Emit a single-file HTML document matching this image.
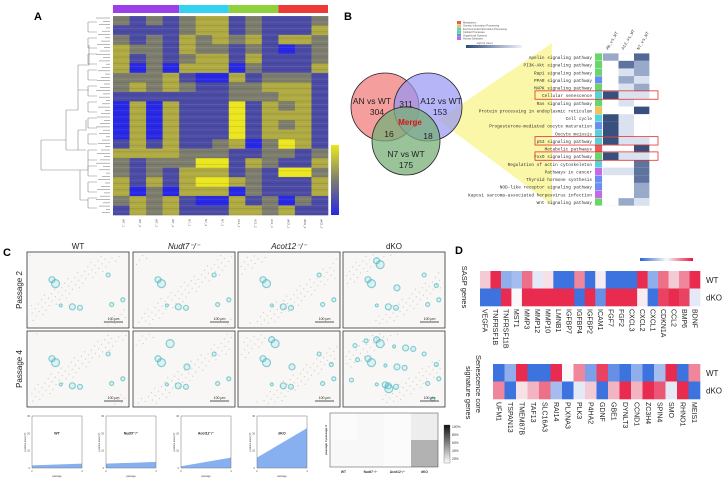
<!DOCTYPE html>
<html><head><meta charset="utf-8"><style>
html,body{margin:0;padding:0;background:#fff;}
svg{display:block;font-family:"Liberation Sans",sans-serif;}
</style></head><body>
<svg id="fig" width="727" height="480" viewBox="0 0 727 480" xmlns="http://www.w3.org/2000/svg">
<g id="gA"></g>
<g id="gB"></g>
<g id="gC"></g>
<g id="gD"></g>
</svg>
<script>
// ---------- Panel A data ----------
const aColumns = ['WT_1','WT_2','WT_3','WT_4','N7_1','N7_2','N7_3','A12_1','A12_2','A12_3','dKO_1','dKO_2','dKO_3'];
const aGroups = [4,3,3,3];
const aGroupColors = ['#9b3fe8','#33d2f0','#8fd13a','#ec3b36'];
const aRows = [
[0,-1,0,-1,0,1,1,-1,0,-1,-1,-1,0],
[-1,-1,-1,-1,0,1,1,-1,0,-1,-1,-1,1],
[0,-1,0,-1,1,0,1,0,1,-1,1,1,0],
[1,0,0,-1,1,0,0,-1,0,-1,-2,-1,0],
[1,-1,0,-1,0,1,1,-1,1,-1,-1,-1,0],
[1,-2,0,-2,1,1,1,-2,0,-1,-1,-1,1],
[0,0,0,1,-1,-2,-2,1,-1,0,0,0,-1],
[0,1,0,1,0,-1,-1,0,0,1,1,1,-1],
[-1,-1,-1,-1,-1,-1,-1,0,0,0,1,1,-1],
[-2,1,-2,1,-1,-1,-1,2,-1,1,0,1,-1],
[-2,1,-2,1,-1,-1,-1,2,-1,1,1,1,-1],
[-2,1,-2,1,-1,-1,-1,2,-1,1,0,1,-1],
[-2,1,-2,1,-1,-1,-1,2,-1,1,1,1,-1],
[-1,1,-1,1,-1,-1,0,1,-2,0,2,1,-1],
[1,1,1,1,0,0,0,-1,-1,0,0,-1,0],
[0,-1,0,0,0,2,2,-1,1,0,-1,-1,1],
[0,-1,0,-1,1,1,1,-1,0,-1,2,2,0],
[1,-1,1,-1,1,2,2,1,0,-1,-1,-1,1],
[1,-2,0,-2,1,1,1,-2,0,-1,-1,-1,1],
[0,1,0,1,-1,-2,-2,1,-1,0,-2,0,-1],
[-1,1,0,1,-1,-1,-1,1,1,0,1,-1,-1]
];
// ---------- Panel B data ----------
const keggNames = ['Apelin signaling pathway','PI3K-Akt signaling pathway','Rap1 signaling pathway','PPAR signaling pathway','MAPK signaling pathway','Cellular senescence','Ras signaling pathway','Protein processing in endoplasmic reticulum','Cell cycle','Progesterone-mediated oocyte maturation','Oocyte meiosis','p53 signaling pathway','Metabolic pathways','FoxO signaling pathway','Regulation of actin cytoskeleton','Pathways in cancer','Thyroid hormone synthesis','NOD-like receptor signaling pathway','Kaposi sarcoma-associated herpesvirus infection','Wnt signaling pathway'];
const keggCategory = [3,3,3,4,3,2,3,1,2,4,2,2,0,3,2,5,4,4,5,3];
const keggAN  = [1.3,0,0,0,0,3,0,0,3,3,3,3,0,3,0,0.3,0,0,0,0];
const keggA12 = [0,2.3,0.3,1.3,0.3,0.3,0.3,0,0.3,0.3,0.3,0.3,0,0.3,0,0.3,0,0,0,1.3];
const keggN7  = [2.5,1.3,1.3,0.3,1.3,0.3,0,3,0,0,0,0.3,3,0.3,2.3,2.3,2.3,1.3,1.3,0.3];
const keggBoxed = [5,11,13];
const keggHeaders = ['AN_vs_WT','A12_vs_WT','N7_vs_WT'];
const catColors = ['#ec5b5b','#f2c458','#5ad0d8','#6ad56a','#6a8ef0','#c46ae8'];
const catNames = ['Metabolism','Genetic Information Processing','Environmental Information Processing','Cellular Processes','Organismal Systems','Human Diseases'];
// ---------- Panel C data ----------
const cGroups = ['WT','Nudt7\u207B/\u207B','Acot12\u207B/\u207B','dKO'];
const cP2 = [1.5,2.5,1,6];
const cP4 = [2.5,3.5,6,23];
const cYTicks = [0,10,20,30];
const hmP2 = [2,3,2,8];
const hmP4 = [3,3,2,35];
const hmLegend = ['100%','80%','60%','40%','20%'];
// ---------- Panel D data ----------
const saspGenes = ['VEGFA','TNFRSF1B','TNFRSF11B','MST1','MMP3','MMP12','MMP10','LMNB1','IGFBP7','IGFBP4','IGFBP2','ICAM1','FGF7','FGF2','CXCL3','CXCL2','CXCL1','CDKN1A','CCL2','BMP6','BDNF'];
const saspWT  = [0.2,0.9,-0.5,-0.4,0.6,-0.1,0.1,-0.9,-0.9,0.5,-0.9,0.05,-0.9,-0.9,-0.9,0.9,-0.5,0.6,0.2,0.5,0.9];
const saspKO  = [-0.9,-0.9,0.9,0,0.9,0.9,0.9,0.9,0.9,-0.9,0.9,-0.7,0.9,0.9,0.9,0.05,-0.9,0.8,0.9,0.8,-0.1];
const coreGenes = ['UFM1','TSPAN13','TMEM87B','TAF13','SLC16A3','RAI14','PLXNA3','PLK3','P4HA2','GDNF','GBE1','DYNLT3','CCND1','ZC3H4','SPIN4','SMO','RHNO1','MEIS1'];
const coreWT = [-0.9,-0.5,0.9,-0.9,-0.9,0.9,0,0.5,-0.6,0.8,-0.7,-0.9,-0.5,-0.9,-0.4,0.9,-0.9,0.5];
const coreKO = [0.5,-0.9,0.1,0.3,0.6,-0.4,-0.9,-0.1,0.2,-0.9,0.3,0.9,0.3,0.9,0.7,-0.1,0.9,-0.9];

const NS='http://www.w3.org/2000/svg';
function mk(parent,tag,attrs,txt){const e=document.createElementNS(NS,tag);for(const k in attrs)e.setAttribute(k,attrs[k]);if(txt!==undefined)e.textContent=txt;parent.appendChild(e);return e;}
function lerp(a,b,t){return a.map((v,i)=>Math.round(v+(b[i]-v)*t));}
function rgb(c){return 'rgb('+c.join(',')+')';}
function colA(v){const t=(v+2)/4;const s=[[40,40,230],[75,75,165],[125,125,110],[175,170,65],[235,230,30]];const p=t*4;const i=Math.min(3,Math.floor(p));return rgb(lerp(s[i],s[i+1],p-i));}
function colD(v){const b=[40,100,220],w=[248,248,250],r=[230,20,60];return v<0?rgb(lerp(w,b,-v)):rgb(lerp(w,r,v));}

// ---------- Panel A ----------
const gA=document.getElementById('gA');
let t=mk(gA,'text',{x:34,y:20,'font-size':11,'font-weight':'bold'},'A');

const ax0=113,ax1=328,ay0=16,ay1=215;
const cw=(ax1-ax0)/aColumns.length, rh=(ay1-ay0)/aRows.length;
let ci=0;
aGroups.forEach((n,g)=>{const r=mk(gA,'rect',{x:ax0+ci*cw,y:5,width:n*cw,height:8,fill:aGroupColors[g]});
ci+=n;});
aRows.forEach((row,i)=>row.forEach((v,j)=>{const r=mk(gA,'rect',{x:ax0+j*cw,y:ay0+i*rh,width:cw+0.3,height:rh+0.3,fill:colA(v)});
}));
for(let i=0;i<=aRows.length*3;i++){mk(gA,'line',{x1:ax0,x2:ax1,y1:ay0+i*rh/3,y2:ay0+i*rh/3,stroke:i%2?'rgba(0,0,60,0.10)':'rgba(255,255,200,0.10)','stroke-width':0.8});}
aColumns.forEach((c,j)=>{const tx=mk(gA,'text',{x:0,y:0,'font-size':3,fill:'#555',transform:`translate(${ax0+j*cw+cw/2+1},219) rotate(90)`},c);
});
// dendrogram
const dg=mk(gA,'g',{stroke:'#888','stroke-width':0.6,fill:'none'});

mk(dg,'path',{d:'M41,140 V170 M41,140 H66 V110 M41,170 H80 V185 M66,110 H78 V65 M66,150 H78 V130 M78,65 H89 V45 M78,90 H89 M78,130 H86 V120 M78,150 H86 M80,170 H88 V160 M80,200 H88 M66,110 V150 M80,185 V200'});
for(let i=0;i<60;i++){const y=ay0+2+i*3.3;const x=96+((i*7)%11);mk(dg,'path',{d:`M${x},${y} H110`});}
for(let i=0;i<12;i++){const y=ay0+6+i*16;mk(dg,'path',{d:`M88,${y} V${y+10} M88,${y} H97 M88,${y+10} H97`});}
// colorbar
const grad=mk(mk(gA,'defs',{}),'linearGradient',{id:'ga',x1:0,y1:1,x2:0,y2:0});
[[0,'rgb(40,40,230)'],[0.5,'rgb(125,125,110)'],[1,'rgb(235,230,30)']].forEach(s=>mk(grad,'stop',{offset:s[0],'stop-color':s[1]}));
const cb=mk(gA,'rect',{x:331,y:145,width:8,height:70,fill:'url(#ga)'});


// ---------- Panel B ----------
const gB=document.getElementById('gB');
t=mk(gB,'text',{x:344,y:20,'font-size':11,'font-weight':'bold'},'B');

const tri=mk(gB,'polygon',{points:'438,120 552,43 552,205',fill:'#fbf7a8'});

[[385,107,'rgba(240,125,125,0.75)','venn-an'],[428,107,'rgba(150,150,245,0.7)','venn-a12'],[406,141,'rgba(120,175,120,0.75)','venn-n7']].forEach(c=>{
const e=mk(gB,'circle',{cx:c[0],cy:c[1],r:34,fill:c[2],stroke:'#222','stroke-width':0.8});
});
[['AN vs WT',372,104,'venn-an-title'],['304',377,115,'venn-an-count'],['311',406,107,'venn-overlap-count'],['A12 vs WT',441,104,'venn-a12-title'],['153',440,115,'venn-a12-count'],['16',389,137,'venn-16'],['18',428,139,'venn-18'],['N7 vs WT',406,157,'venn-n7-title'],['175',406,168,'venn-n7-count']].forEach(a=>{
const e=mk(gB,'text',{x:a[1],y:a[2],'font-size':8.5,'text-anchor':'middle',fill:'#222'},a[0]);
});
t=mk(gB,'text',{x:410,y:125,'font-size':8,'text-anchor':'middle',fill:'#e01010','font-weight':'bold'},'Merge');

// legend
catNames.forEach((n,i)=>{const r=mk(gB,'rect',{x:457,y:21+i*3.2,width:4,height:3,fill:catColors[i]});

const e=mk(gB,'text',{x:463,y:23.5+i*3.2,'font-size':2.6,fill:'#555'},n);
});
const g2=mk(gB.appendChild(document.createElementNS(NS,'defs')),'linearGradient',{id:'gk',x1:0,y1:0,x2:1,y2:0});
mk(g2,'stop',{offset:0,'stop-color':'#2c4a7a'});mk(g2,'stop',{offset:1,'stop-color':'#eef2fa'});
const kb=mk(gB,'rect',{x:466,y:45,width:56,height:3,fill:'url(#gk)'});

mk(gB,'text',{x:476,y:44,'font-size':2.5,fill:'#666'},'-log10(p value)');
const ky0=57, ks=7.63, kx=[603,618.5,634], kcw=15.5;
function kcol(v){if(v<=0)return '#ffffff';const s=[[238,242,250],[170,186,214],[110,130,170],[55,80,125]];const p=Math.min(2.999,v*0.999);const i=Math.floor(p);return rgb(lerp(s[i],s[Math.min(3,i+1)],p-i));}
keggNames.forEach((n,i)=>{const y=ky0+i*ks;
const e=mk(gB,'text',{x:592,y:y+2,'font-size':4.4,'text-anchor':'end','font-family':'Liberation Mono, monospace',fill:'#333'},n);

const s=mk(gB,'rect',{x:595,y:y-3.6,width:7,height:ks-0.4,fill:catColors[keggCategory[i]]});

[keggAN,keggA12,keggN7].forEach((arr,k)=>{const c=mk(gB,'rect',{x:kx[k],y:y-3.8,width:kcw,height:ks,fill:kcol(arr[i])});
});});
mk(gB,'rect',{x:602.5,y:ky0-3.8,width:47,height:ks*20,fill:'none',stroke:'#eef0f4','stroke-width':0.4});
keggBoxed.forEach(i=>{const b=mk(gB,'rect',{x:535,y:ky0+i*ks-4.3,width:123,height:8.4,fill:'none',stroke:'#e03030','stroke-width':0.8});
});
keggHeaders.forEach((h,k)=>{const e=mk(gB,'text',{x:0,y:0,'font-size':4.2,'font-family':'Liberation Mono, monospace',fill:'#333',transform:`translate(${kx[k]+5},50) rotate(-60)`},h);
});

// ---------- Panel C ----------
const gC=document.getElementById('gC');
t=mk(gC,'text',{x:3,y:256,'font-size':11,'font-weight':'bold'},'C');

const imX=[27,133,238,343], imW=102, imY=[252,331], imH=76;
cGroups.forEach((g,i)=>{const e=mk(gC,'text',{x:imX[i]+imW/2,y:249,'font-size':8,'text-anchor':'middle','font-style':i===1||i===2?'italic':'normal',fill:'#222'},g);
});
['Passage 2','Passage 4'].forEach((p,r)=>{const e=mk(gC,'text',{x:0,y:0,'font-size':8,'text-anchor':'middle',fill:'#222',transform:`translate(22,${imY[r]+imH/2}) rotate(-90)`},p);
});
const dots=[[0.25,0.4,4],[0.3,0.55,3],[0.6,0.3,2],[0.8,0.7,3],[0.45,0.8,2],[0.15,0.2,2],[0.7,0.5,2.5],[0.35,0.25,1.5]];
const dense=[[1,1],[1,1.2],[1,1.5],[1.5,3]];
for(let r=0;r<2;r++)for(let i=0;i<4;i++){
const im=mk(gC,'rect',{x:imX[i],y:imY[r],width:imW,height:imH,fill:'#f8f7f5',stroke:'#333','stroke-width':0.8});

for(let k=0;k<70;k++){const fx=(k*0.379+i*0.11+r*0.07)%1,fy=(k*0.617+i*0.05)%1;
mk(gC,'circle',{cx:imX[i]+3+fx*(imW-6),cy:imY[r]+3+fy*(imH-6),r:0.6,fill:'rgba(150,150,140,0.45)'});}
const n=Math.round(dots.length*dense[i][r]);
for(let k=0;k<n;k++){const d=dots[k%dots.length];const fx=(d[0]+k*0.137)%1,fy=(d[1]+k*0.213)%1;
mk(gC,'circle',{cx:imX[i]+6+fx*(imW-12),cy:imY[r]+6+fy*(imH-12),r:d[2],fill:'rgba(90,200,205,0.15)',stroke:'rgba(60,180,190,0.6)','stroke-width':1.2});}
mk(gC,'line',{x1:imX[i]+imW-25,x2:imX[i]+imW-6,y1:imY[r]+imH-6,y2:imY[r]+imH-6,stroke:'#222','stroke-width':0.8});
mk(gC,'text',{x:imX[i]+imW-15.5,y:imY[r]+imH-8,'font-size':3.5,'text-anchor':'middle',fill:'#222'},'100 μm');}
// small area charts
const pX=[32,106,181,257], pW=50, pY0=416, pY1=468;
cGroups.forEach((g,i)=>{const x0=pX[i];const ys=v=>pY1-(v/30)*(pY1-pY0);
const a=mk(gC,'polygon',{points:`${x0},${pY1} ${x0},${ys(cP2[i])} ${x0+pW},${ys(cP4[i])} ${x0+pW},${pY1}`,fill:'#86b0f0'});

const f=mk(gC,'rect',{x:x0,y:pY0,width:pW,height:pY1-pY0,fill:'none',stroke:'#777','stroke-width':0.5});

cYTicks.forEach(v=>{mk(gC,'text',{x:x0-2,y:ys(v)+1,'font-size':2.5,'text-anchor':'end',fill:'#444'},v);});
mk(gC,'text',{x:x0,y:pY1+4,'font-size':2.5,'text-anchor':'middle',fill:'#444'},'2');
mk(gC,'text',{x:x0+pW,y:pY1+4,'font-size':2.5,'text-anchor':'middle',fill:'#444'},'4');
mk(gC,'text',{x:x0+pW/2,y:pY1+9,'font-size':2.5,'text-anchor':'middle',fill:'#444'},'passage');
mk(gC,'text',{x:0,y:0,'font-size':2.5,'text-anchor':'middle',fill:'#444',transform:`translate(${x0-6},${(pY0+pY1)/2}) rotate(-90)`},'positive area (%)');
const lb=mk(gC,'text',{x:x0+pW/2,y:ys(20)+1,'font-size':3.5,'font-weight':'bold','text-anchor':'middle',fill:'#222'},g);
});
// bottom heatmap
const hx0=330,hx1=438,hy0=413,hy1=467,hcw=(hx1-hx0)/4,hrh=(hy1-hy0)/2;
[hmP2,hmP4].forEach((arr,r)=>arr.forEach((v,j)=>{const g=Math.round(255-v*2.2);
const c=mk(gC,'rect',{x:hx0+j*hcw,y:hy0+r*hrh,width:hcw,height:hrh,fill:`rgb(${g},${g},${g})`});
}));
mk(gC,'rect',{x:hx0,y:hy0,width:hx1-hx0,height:hy1-hy0,fill:'none',stroke:'#444','stroke-width':0.5});
['WT','Nudt7\u207B/\u207B','Acot12\u207B/\u207B','dKO'].forEach((g,j)=>{mk(gC,'text',{x:hx0+j*hcw+hcw/2,y:hy1+6,'font-size':3.3,'text-anchor':'middle','font-weight':'bold',fill:'#333'},g);});
mk(gC,'text',{x:0,y:0,'font-size':3,'font-weight':'bold','text-anchor':'middle',fill:'#333',transform:`translate(${hx0-3},${(hy0+hy1)/2}) rotate(-90)`},'passage 4   passage 2');
const g3=mk(mk(gC,'defs',{}),'linearGradient',{id:'gg',x1:0,y1:1,x2:0,y2:0});
mk(g3,'stop',{offset:0,'stop-color':'#fff'});mk(g3,'stop',{offset:1,'stop-color':'#111'});
const hb=mk(gC,'rect',{x:444,y:425,width:6,height:38,fill:'url(#gg)',stroke:'#444','stroke-width':0.3});

hmLegend.forEach((l,k)=>mk(gC,'text',{x:452,y:428+k*8,'font-size':3.3,fill:'#333'},l));

// ---------- Panel D ----------
const gD=document.getElementById('gD');
t=mk(gD,'text',{x:455,y:254,'font-size':11,'font-weight':'bold'},'D');

function geneHeat(genes,wt,ko,x0,x1,y0,rh,tag){const w=(x1-x0)/genes.length;
genes.forEach((g,i)=>{[wt,ko].forEach((arr,r)=>{const c=mk(gD,'rect',{x:x0+i*w,y:y0+r*rh,width:w+0.3,height:rh+0.3,fill:colD(arr[i])});
});
const e=mk(gD,'text',{x:0,y:0,'font-size':7,fill:'#222',transform:`translate(${x0+i*w+w/2-2.5},${y0+2*rh+3}) rotate(90)`},g);
});
['WT','dKO'].forEach((l,r)=>{const e=mk(gD,'text',{x:706,y:y0+r*rh+rh/2+3,'font-size':8,fill:'#222'},l);
});}
geneHeat(saspGenes,saspWT,saspKO,480,700,271,17.5,'sasp');
geneHeat(coreGenes,coreWT,coreKO,493,700,364,17.5,'core');
const g4=mk(mk(gD,'defs',{}),'linearGradient',{id:'gd',x1:0,y1:0,x2:1,y2:0});
mk(g4,'stop',{offset:0,'stop-color':'rgb(40,100,220)'});mk(g4,'stop',{offset:0.5,'stop-color':'#fafafa'});mk(g4,'stop',{offset:1,'stop-color':'rgb(230,20,60)'});
const db=mk(gD,'rect',{x:640,y:258,width:53,height:3,fill:'url(#gd)'});

t=mk(gD,'text',{x:0,y:0,'font-size':7.5,fill:'#222','text-anchor':'middle',transform:'translate(462,287) rotate(90)'},'SASP genes');

mk(gD,'text',{x:0,y:0,'font-size':7.5,fill:'#222',transform:'translate(476,355) rotate(90)'},'Senescence core');
t=mk(gD,'text',{x:0,y:0,'font-size':7.5,fill:'#222',transform:'translate(466,366) rotate(90)'},'signature genes');

</script>
</body></html>
